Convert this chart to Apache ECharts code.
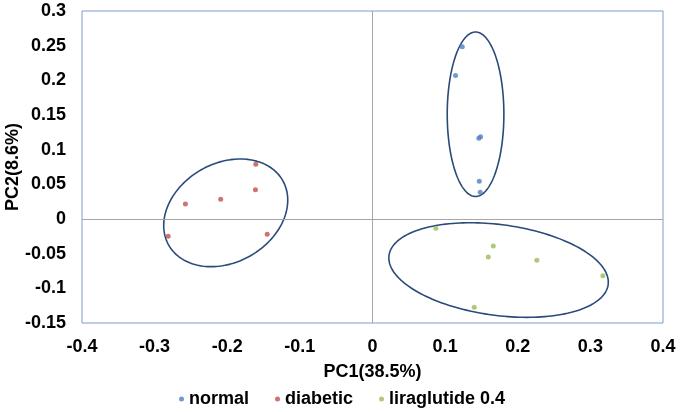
<!DOCTYPE html>
<html>
<head>
<meta charset="utf-8">
<script src="https://cdn.jsdelivr.net/npm/echarts@6/dist/echarts.min.js"></script>
<style>
html,body{margin:0;padding:0;background:#fff;}
#chart{width:680px;height:412px;}
</style>
</head>
<body>
<div id="chart"></div>
<script>
// ---- data ----
var seriesNames = ['normal', 'diabetic', 'liraglutide 0.4'];
var normalPts = [[0.1236,0.2486],[0.1143,0.2068],[0.1464,0.1165],[0.1488,0.1188],[0.1470,0.0544],[0.1483,0.0385]];
var diabeticPts = [[-0.1607,0.0789],[-0.1612,0.0423],[-0.2090,0.0284],[-0.2576,0.0216],[-0.2814,-0.0250],[-0.1450,-0.0221]];
var liraPts = [[0.0872,-0.0134],[0.1663,-0.0390],[0.1594,-0.0548],[0.2263,-0.0596],[0.3172,-0.0818],[0.1401,-0.1274]];
// ellipses: [centerX, centerY, semiMajor (x-units), semiMinor (x-units), angle deg]
var ellipses = [
  [0.1419, 0.1511, 0.1132, 0.0390, 90],
  [-0.2021, 0.0089, 0.0902, 0.0682, 29.5],
  [0.1736, -0.0736, 0.1522, 0.0625, -7.6]
];
var xTicks = [-0.4,-0.3,-0.2,-0.1,0,0.1,0.2,0.3,0.4];
var yTicks = [-0.15,-0.1,-0.05,0,0.05,0.1,0.15,0.2,0.25,0.3];
var colors = ['#4F81BD', '#C0504D', '#9BBB59'];

var chart = echarts.init(document.getElementById('chart'));
var font = 'Liberation Sans, Arial, sans-serif';

function fmt(v){ return String(Math.round(v*100)/100); }

var option = {
  animation: false,
  backgroundColor: '#ffffff',
  color: colors,
  grid: {left: 82, right: 17, top: 11, bottom: 89, containLabel: false, outerBoundsMode: 'none',
         show: true, borderColor: '#7C9CC8', borderWidth: 1, backgroundColor: '#fff'},
  xAxis: {
    type: 'value', min: xTicks[0], max: xTicks[xTicks.length-1], interval: 0.1,
    splitLine: {show: false}, axisTick: {show: false}, axisLine: {show: false, onZero: false},
    axisLabel: {color: '#000', fontFamily: font, fontWeight: 'bold', fontSize: 18, margin: 15, formatter: fmt},
    name: 'PC1(38.5%)', nameLocation: 'middle', nameGap: 40, nameMoveOverlap: false,
    nameTextStyle: {color: '#000', fontFamily: font, fontWeight: 'bold', fontSize: 18}
  },
  yAxis: {
    type: 'value', min: yTicks[0], max: yTicks[yTicks.length-1], interval: 0.05,
    splitLine: {show: false}, axisTick: {show: false}, axisLine: {show: false, onZero: false},
    axisLabel: {color: '#000', fontFamily: font, fontWeight: 'bold', fontSize: 18, margin: 16, formatter: fmt},
    name: 'PC2(8.6%)', nameLocation: 'middle', nameGap: 60, nameMoveOverlap: false,
    nameTextStyle: {color: '#000', fontFamily: font, fontWeight: 'bold', fontSize: 18}
  },
  legend: {
    data: seriesNames, left: 174, top: 385, icon: 'circle', itemWidth: 5, itemHeight: 5, itemGap: 26,
    textStyle: {color: '#000', fontFamily: font, fontWeight: 'bold', fontSize: 18}
  },
  series: [
    {
      type: 'custom', name: 'ellipses', silent: true, z: 3,
      data: ellipses,
      renderItem: function(params, api){
        var c = api.coord([api.value(0), api.value(1)]);
        var a = api.size([api.value(2), 0])[0];
        var b = api.size([api.value(3), 0])[0];
        var phi = api.value(4) * Math.PI / 180;
        var pts = [];
        for (var i = 0; i < 180; i++) {
          var t = i / 180 * Math.PI * 2;
          var ex = a * Math.cos(t), ey = b * Math.sin(t);
          pts.push([c[0] + ex*Math.cos(phi) - ey*Math.sin(phi), c[1] - (ex*Math.sin(phi) + ey*Math.cos(phi))]);
        }
        return {type: 'polygon', shape: {points: pts}, style: {fill: 'none', stroke: '#2A4A7A', lineWidth: 1.6}};
      }
    },
    {
      name: 'normal', type: 'scatter', data: normalPts, symbolSize: 5, z: 4,
      itemStyle: {color: colors[0]},
      markLine: {
        silent: true, symbol: 'none', label: {show: false},
        lineStyle: {color: '#A6A6A6', width: 1, type: 'solid'},
        data: [{xAxis: 0}, {yAxis: 0}]
      }
    },
    {name: 'diabetic', type: 'scatter', data: diabeticPts, symbolSize: 5, z: 4, itemStyle: {color: colors[1]}},
    {name: 'liraglutide 0.4', type: 'scatter', data: liraPts, symbolSize: 5, z: 4, itemStyle: {color: colors[2]}}
  ]
};
chart.setOption(option);
</script>
</body>
</html>
